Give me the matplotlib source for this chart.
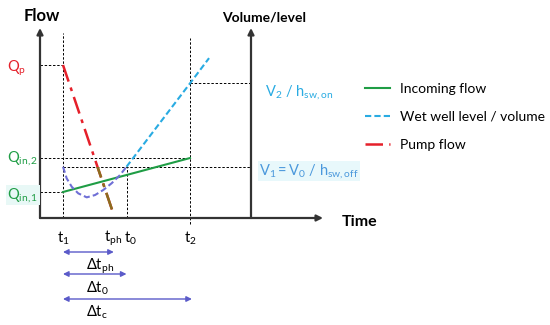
import matplotlib
matplotlib.use("Agg")
import matplotlib.pyplot as plt
from matplotlib.patches import Rectangle

plt.rcParams['font.family'] = ['Lato', 'DejaVu Sans']
plt.rcParams['mathtext.fontset'] = 'custom'
plt.rcParams['mathtext.rm'] = 'Lato'
plt.rcParams['mathtext.it'] = 'Lato:italic'
plt.rcParams['mathtext.bf'] = 'Lato:bold'

# ---- data (schematic units: time from t1, flow / level) ----
t_marks = [0.0, 4.0, 5.0, 10.0]                    # t1, tph, t0, t2
t_labels = [r'$\mathrm{t_1}$', r'$\mathrm{t_{ph}}$', r'$\mathrm{t_0}$', r'$\mathrm{t_2}$']
Q_p = 10.0
Q_in1 = 1.70
Q_in2 = 3.92
V1 = 3.35
V2 = 8.8

incoming_t = [0.0, 10.0]
incoming_q = [Q_in1, Q_in2]

pump_t = [0.0, 4.0]
pump_q = [Q_p, 0.2]

level_t_low = [0.0, 0.29, 0.69, 1.20, 1.87, 2.52, 3.17, 3.83, 4.49, 5.0]
level_v_low = [3.35, 2.59, 2.04, 1.61, 1.35, 1.50, 1.83, 2.27, 2.81, 3.35]
level_t_up = [5.0, 10.0, 11.5]
level_v_up = [3.35, 8.8, 10.45]

legend_labels = ['Incoming flow', 'Wet well level / volume', 'Pump flow']

# ---- figure / layout ----
W, H = 550, 325
fig = plt.figure(figsize=(W / 100, H / 100), dpi=100)
ax = fig.add_axes([0, 0, 1, 1])
px_t = 12.7   # px per time unit
px_q = 15.3   # px per flow unit
x0px, y0px = 63, 218
ax.set_xlim(-x0px / px_t, (W - x0px) / px_t)
ax.set_ylim((y0px - H) / px_q, y0px / px_q)
ax.axis('off')

t_left = (40 - x0px) / px_t
t_right = (251 - x0px) / px_t
t_time_end = (323 - x0px) / px_t
q_top = (y0px - 28) / px_q

axis_col = '#333333'
green = '#1f9d45'
cyan = '#29abe2'
purple = '#6f6fd6'
red = '#e5202a'
arrow_col = '#5b5bc9'

# axes with arrows
arr = dict(arrowstyle='-|>', color=axis_col, lw=1.6, mutation_scale=9, shrinkA=0, shrinkB=0)
ax.annotate('', xy=(t_left, q_top), xytext=(t_left, 0), arrowprops=arr)
ax.annotate('', xy=(t_right, q_top), xytext=(t_right, 0), arrowprops=arr)
ax.annotate('', xy=(t_time_end, 0), xytext=(t_left, 0), arrowprops=arr)

ax.text(t_left - 1.3, (y0px - 16) / px_q, 'Flow', fontsize=12, fontweight='bold', ha='left', va='center')
ax.text(t_right - 2.3, (y0px - 18) / px_q, 'Volume/level', fontsize=10, fontweight='bold', ha='left', va='center')
ax.text((342 - x0px) / px_t, (y0px - 222) / px_q, 'Time', fontsize=11.5, fontweight='bold', ha='left', va='center')

# dashed guides
dk = dict(color='black', lw=0.7, ls=(0, (2.5, 1.8)))
ax.plot([t_left, t_marks[0]], [Q_p, Q_p], **dk)
ax.plot([t_left, t_marks[3]], [Q_in2, Q_in2], **dk)
ax.plot([t_left, t_marks[0]], [Q_in1, Q_in1], **dk)
ax.plot([t_marks[0], t_right], [V1, V1], **dk)
ax.plot([t_marks[3], t_right], [V2, V2], **dk)
ax.plot([t_marks[0], t_marks[0]], [0, (y0px - 33) / px_q], **dk)
ax.plot([t_marks[3], t_marks[3]], [(y0px - 224) / px_q, (y0px - 38) / px_q], **dk)
ax.plot([t_marks[2], t_marks[2]], [0, V1], **dk)

# series
ax.plot(incoming_t, incoming_q, color=green, lw=1.5, label=legend_labels[0], zorder=3)
ax.plot(level_t_low, level_v_low, color=purple, lw=1.5, ls=(0, (3, 1.5)), zorder=3)
ax.plot(level_t_up, level_v_up, color=cyan, lw=1.5, ls=(0, (3, 1.5)), label=legend_labels[1], zorder=3)
ax.plot(pump_t, pump_q, color=red, lw=1.8, ls=(0, (7, 2.5, 1.5, 2.5)), label=legend_labels[2], zorder=3)
low, = ax.plot(pump_t, pump_q, color='#8a6d1e', lw=1.8, ls=(0, (7, 2.5, 1.5, 2.5)), zorder=4)
clip = Rectangle((-1, -1), 10, V1 + 1, transform=ax.transData)
low.set_clip_path(clip)

# left labels
xl = (7 - x0px) / px_t
ax.text(xl, Q_p - 0.2, r'$\mathrm{Q_p}$', color=red, fontsize=10.5, ha='left', va='center')
ax.text(xl, Q_in2, r'$\mathrm{Q_{in,2}}$', color=green, fontsize=10.5, ha='left', va='center')
ax.text(xl, Q_in1 - 0.2, r'$\mathrm{Q_{in,1}}$', color=green, fontsize=10.5, ha='left', va='center',
        bbox=dict(facecolor='#e8f8f6', edgecolor='none', pad=1))

# right labels
ax.text((265 - x0px) / px_t, (y0px - 92) / px_q, r'$\mathrm{V_2\ /\ h_{sw,on}}$', color=cyan,
        fontsize=10.5, ha='left', va='center')
ax.text((259 - x0px) / px_t, (y0px - 171) / px_q, r'$\mathrm{V_1 = V_0\ /\ h_{sw,off}}$', color='#4a98dc',
        fontsize=10.5, ha='left', va='center', bbox=dict(facecolor='#e8f8fb', edgecolor='none', pad=1))

# time labels
yl = (y0px - 238) / px_q
offs = [0, -0.05, 0.35, 0]
for t, lab, o in zip(t_marks, t_labels, offs):
    ax.text(t + o, yl, lab, fontsize=10.5, ha='center', va='center')

# interval arrows
arrows = [(t_marks[1], 252, r'$\Delta\mathrm{t_{ph}}$', 266),
          (t_marks[2], 274, r'$\Delta\mathrm{t_0}$', 288),
          (t_marks[3] + 0.15, 299, r'$\Delta\mathrm{t_c}$', 312)]
for tend, ypx, lab, lypx in arrows:
    yy = (y0px - ypx) / px_q
    ax.annotate('', xy=(tend, yy), xytext=(t_marks[0], yy),
                arrowprops=dict(arrowstyle='<|-|>', color=arrow_col, lw=1.0, mutation_scale=8,
                                shrinkA=0, shrinkB=0))
    ax.text((86 - x0px) / px_t, (y0px - lypx) / px_q, lab, fontsize=10.5, ha='left', va='center')

leg = ax.legend(loc='upper left', bbox_to_anchor=(365 / W, 1 - 83 / H), frameon=False, fontsize=10,
                handlelength=1.8, handletextpad=0.7, labelspacing=1.15, borderpad=0, borderaxespad=0)

fig.savefig('out.png', dpi=100)
